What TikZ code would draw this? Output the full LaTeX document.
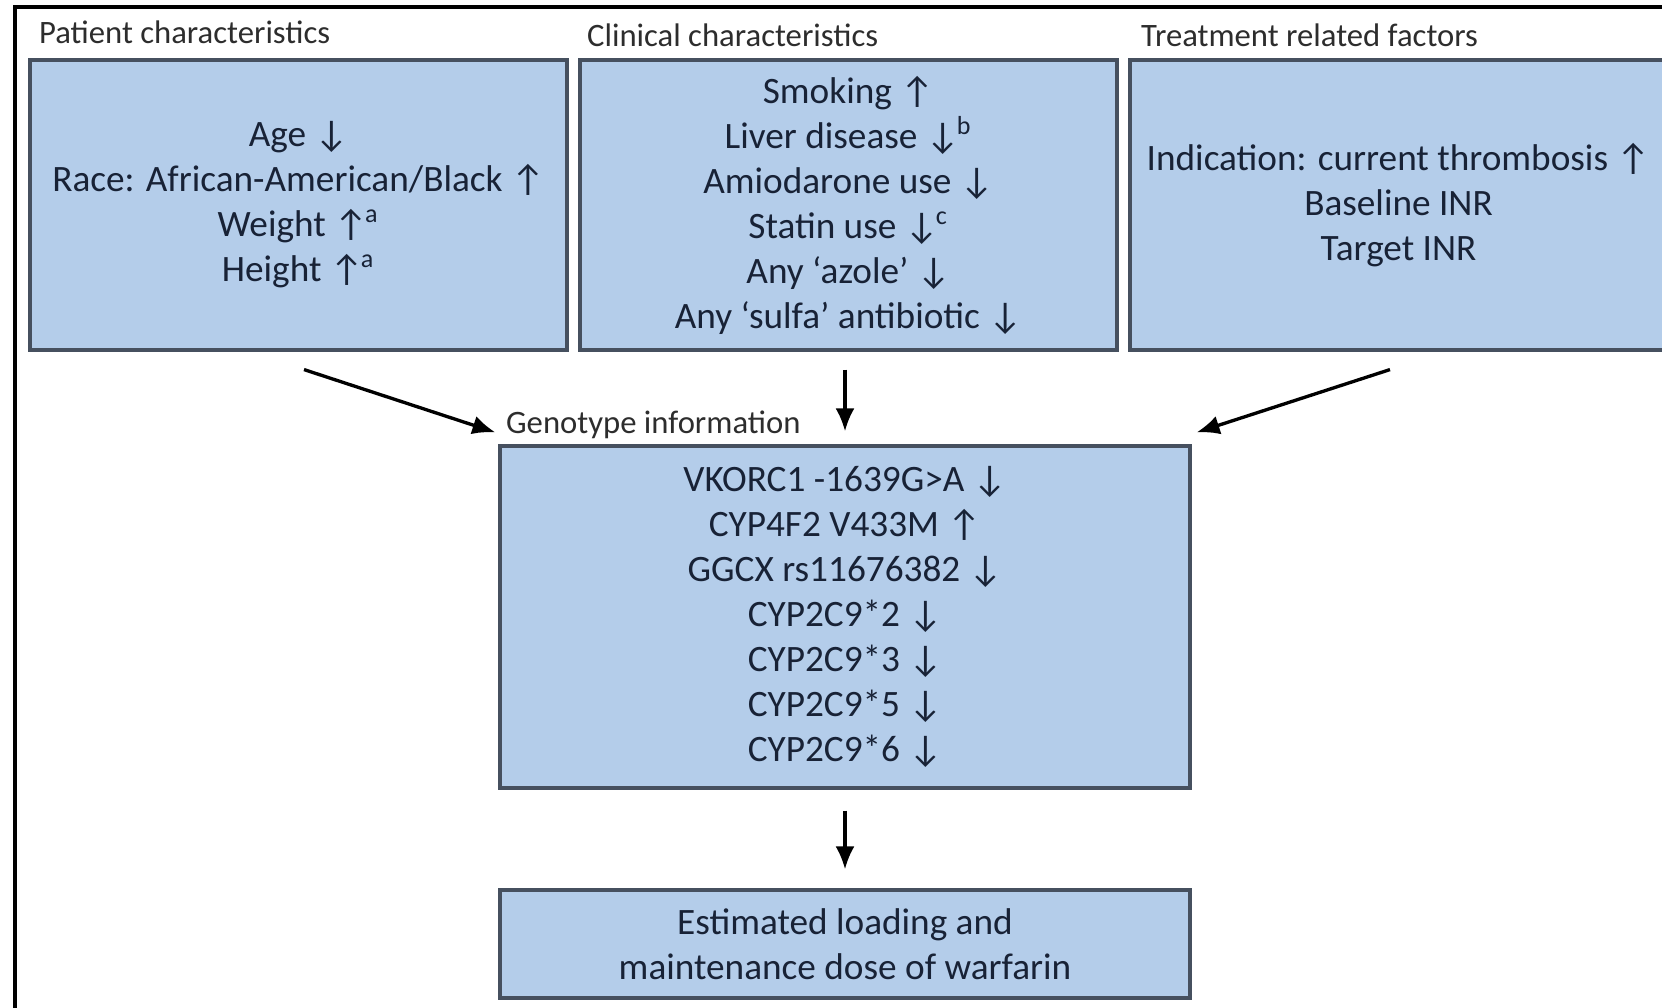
\documentclass[tikz,border=0pt]{standalone}
\usepackage{fontspec}
\setmainfont{Carlito}
\usepackage{tikz}
\usepackage{xcolor}
\usetikzlibrary{arrows.meta}

\definecolor{boxfill}{RGB}{180,205,234}
\definecolor{boxline}{RGB}{70,80,95}
\definecolor{boxtext}{RGB}{24,34,54}
\definecolor{labeltext}{RGB}{45,45,45}

\newcommand{\notemark}[1]{\kern-0.8pt\textsuperscript{#1}}

\begin{document}
\begin{tikzpicture}[
    factorbox/.style={rectangle, draw=boxline, line width=0.9pt, fill=boxfill, text=boxtext,
        align=center, font=\fontsize{10.6}{12.8}\selectfont, inner sep=0pt},
    grouplabel/.style={anchor=base west, text=labeltext, font=\fontsize{9.3}{11}\selectfont, inner sep=0pt},
    flow/.style={-{Latex[length=2.3mm,width=1.9mm]}, line width=0.95pt}
]
    \useasboundingbox (0,0) rectangle (16.62,10.07);

    % Frame
    \draw[line width=0.9pt] (0.15,-0.2) -- (0.15,10.0) -- (16.9,10.0);

    % Factor boxes
    \node[factorbox, minimum width=5.37cm, minimum height=2.90cm] (pat) at (2.985,8.02)
        {Age ↓\\Race: African-American/Black ↑\\Weight ↑\notemark{a}\\Height ↑\notemark{a}};
    \node[factorbox, minimum width=5.37cm, minimum height=2.90cm] (clin) at (8.485,8.02)
        {Smoking ↑\\Liver disease ↓\notemark{b}\\Amiodarone use ↓\\Statin use ↓\notemark{c}\\Any ‘azole’ ↓\\Any ‘sulfa’ antibiotic ↓};
    \node[factorbox, minimum width=5.37cm, minimum height=2.90cm] (treat) at (13.985,8.02)
        {Indication: current thrombosis ↑\\Baseline INR\\Target INR};

    % Genotype
    \node[factorbox, minimum width=6.90cm, minimum height=3.42cm] (gen) at (8.45,3.90)
        {VKORC1 -1639G>A ↓\\CYP4F2 V433M ↑\\GGCX rs11676382 ↓\\CYP2C9*2 ↓\\CYP2C9*3 ↓\\CYP2C9*5 ↓\\CYP2C9*6 ↓};

    % Output
    \node[factorbox, minimum width=6.90cm, minimum height=1.08cm] (dose) at (8.45,0.63)
        {Estimated loading and\\maintenance dose of warfarin};

    % Labels
    \node[grouplabel] (patlab) at ([shift={(0.10,0.15)}]pat.north west) {Patient characteristics};
    \node[grouplabel] (clinlab) at ([shift={(0.08,0.12)}]clin.north west) {Clinical characteristics};
    \node[grouplabel] (treatlab) at ([shift={(0.12,0.12)}]treat.north west) {Treatment related factors};
    \node[grouplabel] (genlab) at ([shift={(0.07,0.11)}]gen.north west) {Genotype information};

    % Edges
    \draw[flow] ([shift={(0.055,-0.18)}]pat.south) -- ([shift={(-0.03,0.12)}]gen.north west);
    \draw[flow] ([yshift=-0.18cm]gen.north |- clin.south) -- ([yshift=0.13cm]gen.north);
    \draw[flow] ([shift={(-0.085,-0.18)}]treat.south) -- ([shift={(0.05,0.12)}]gen.north east);
    \draw[flow] ([yshift=-0.21cm]gen.south) -- ([yshift=0.19cm]dose.north);
\end{tikzpicture}
\end{document}
